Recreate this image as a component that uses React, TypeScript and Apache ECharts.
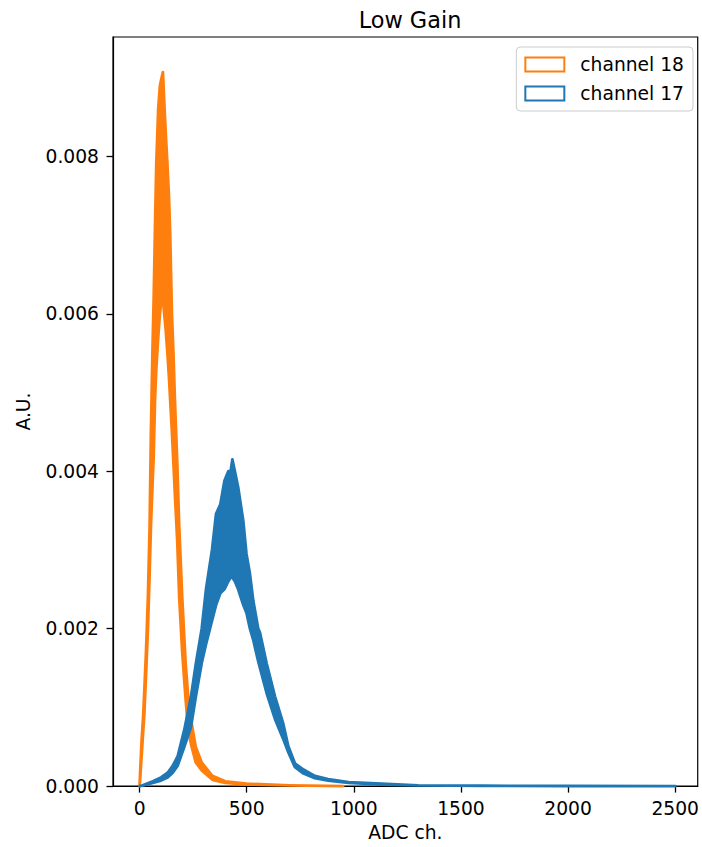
import React, { useEffect, useRef } from "react";
import * as echarts from "echarts";

// channel 18 (orange): ADC positions, upper and lower envelope of the noisy histogram
const X18 = [0, 3, 10, 17, 22, 30, 39, 47, 53, 60, 66, 72, 78, 87, 95, 103, 109, 115, 122, 130, 137, 143, 147, 151, 158, 165, 176, 185, 199, 215, 227, 243, 262, 290, 340, 400, 500, 700, 950];
const UP18 = [0, 0.0002, 0.0006, 0.0009, 0.0012, 0.0017, 0.0024, 0.0033, 0.0045, 0.0055, 0.0062, 0.0071, 0.0079, 0.0086, 0.0089, 0.009, 0.00907, 0.0087, 0.0083, 0.0079, 0.0075, 0.007, 0.0065, 0.006, 0.0055, 0.0049, 0.0041, 0.0033, 0.0024, 0.00156, 0.00114, 0.0008, 0.0005, 0.0003, 0.00013, 0.00006, 0.00003, 0.00001, 0];
const LO18 = [0, 0.0001, 0.0004, 0.0007, 0.0009, 0.0014, 0.002, 0.0027, 0.0033, 0.0038, 0.0042, 0.0049, 0.0053, 0.0057, 0.006, 0.0062, 0.0062, 0.006, 0.0058, 0.0055, 0.0052, 0.0049, 0.0047, 0.0045, 0.0041, 0.0037, 0.0031, 0.0024, 0.0017, 0.0011, 0.0007, 0.0005, 0.0003, 0.0002, 0.00008, 0.00004, 0.00002, 0.00001, 0];

// channel 17 (blue)
const X17 = [0, 14, 62, 100, 131, 155, 178, 209, 240, 263, 290, 310, 338, 357, 377, 396, 414, 425, 433, 445, 460, 484, 499, 515, 531, 554, 562, 593, 632, 670, 694, 725, 765, 818, 880, 975, 1130, 1300, 1600, 2000, 2500];
const UP17 = [0, 0.00001, 0.00006, 0.00011, 0.00017, 0.00026, 0.00038, 0.00072, 0.00114, 0.00156, 0.002, 0.0025, 0.003, 0.00346, 0.00358, 0.00388, 0.004, 0.004, 0.00415, 0.004, 0.0038, 0.00337, 0.00295, 0.0027, 0.00235, 0.002, 0.00195, 0.00156, 0.00114, 0.0008, 0.00051, 0.00029, 0.00021, 0.00013, 0.00009, 0.00005, 0.00003, 0.00001, 0.000005, 0.000002, 0];
const LO17 = [0, 0.000005, 0.00004, 0.00007, 0.00011, 0.00017, 0.00026, 0.0005, 0.00075, 0.00114, 0.00156, 0.0018, 0.0021, 0.0023, 0.00245, 0.0025, 0.0026, 0.00265, 0.00265, 0.0026, 0.0025, 0.0023, 0.0022, 0.002, 0.00185, 0.00158, 0.0015, 0.00118, 0.00085, 0.0006, 0.00043, 0.00024, 0.00016, 0.0001, 0.00007, 0.00004, 0.00002, 0.000008, 0.000003, 0.000001, 0];

const X_TICKS = [0, 500, 1000, 1500, 2000, 2500];
const Y_TICKS = [0, 0.002, 0.004, 0.006, 0.008];

const SERIES = [
  { name: "channel 18", color: "#ff7f0e", x: X18, up: UP18, lo: LO18 },
  { name: "channel 17", color: "#1f77b4", x: X17, up: UP17, lo: LO17 },
];

const FONT = "DejaVu Sans";

export default function App() {
  const ref = useRef<HTMLDivElement>(null);
  useEffect(() => {
    if (!ref.current) return;
    const chart = echarts.init(ref.current, undefined, { renderer: "svg" });
    const axisLine = { show: true, onZero: false, lineStyle: { color: "#000", width: 1.2 } };
    const tick = { show: true, length: 6.5, lineStyle: { color: "#000", width: 1.3 } };
    const option: any = {
      animation: false,
      backgroundColor: "#ffffff",
      title: {
        text: "Low Gain",
        left: 405,
        textAlign: "center",
        top: 4,
        textStyle: { fontFamily: FONT, fontSize: 22.4, fontWeight: "normal", color: "#000" },
      },
      grid: {
        left: 113,
        top: 37,
        right: 4,
        bottom: 57,
        show: true,
        borderColor: "#000",
        borderWidth: 1.2,
        backgroundColor: "transparent",
      },
      xAxis: {
        type: "value",
        min: -124,
        max: 2605,
        name: "ADC ch.",
        nameLocation: "middle",
        nameGap: 34,
        nameTextStyle: { fontFamily: FONT, fontSize: 18.7, color: "#000" },
        axisLine,
        splitLine: { show: false },
        axisTick: { ...tick, customValues: X_TICKS },
        axisLabel: {
          fontFamily: FONT,
          fontSize: 18.7,
          color: "#000",
          margin: 13,
          customValues: X_TICKS,
          formatter: (v: number) => String(v),
        },
      },
      yAxis: {
        type: "value",
        min: 0,
        max: 0.009516,
        name: "A.U.",
        nameLocation: "middle",
        nameGap: 80,
        nameRotate: 90,
        nameTextStyle: { fontFamily: FONT, fontSize: 18.7, color: "#000" },
        axisLine,
        splitLine: { show: false },
        axisTick: { ...tick, customValues: Y_TICKS },
        axisLabel: {
          fontFamily: FONT,
          fontSize: 18.7,
          color: "#000",
          margin: 14,
          customValues: Y_TICKS,
          formatter: (v: number) => v.toFixed(3),
        },
      },
      legend: {
        orient: "vertical",
        right: 9,
        top: 47,
        padding: [8, 9, 8, 8],
        itemWidth: 39,
        itemHeight: 14,
        itemGap: 10,
        backgroundColor: "rgba(255,255,255,0.8)",
        borderColor: "#cccccc",
        borderWidth: 1,
        borderRadius: 4,
        selectedMode: false,
        textStyle: { fontFamily: FONT, fontSize: 18.7, color: "#000", padding: [0, 0, 0, 11] },
        data: SERIES.map((s) => ({
          name: s.name,
          icon: "rect",
          itemStyle: { color: "rgba(255,255,255,0)", borderColor: s.color, borderWidth: 2 },
        })),
      },
      series: SERIES.map((s) => ({
        type: "custom",
        name: s.name,
        coordinateSystem: "cartesian2d",
        color: s.color,
        data: [[s.x[0], s.up[0]]],
        silent: true,
        renderItem: (_params: any, api: any) => {
          const pts: number[][] = [];
          for (let i = 0; i < s.x.length; i++) pts.push(api.coord([s.x[i], s.up[i]]));
          for (let i = s.x.length - 1; i >= 0; i--) pts.push(api.coord([s.x[i], s.lo[i]]));
          return {
            type: "polygon",
            shape: { points: pts },
            style: { fill: s.color, stroke: s.color, lineWidth: 2.8, lineJoin: "round" },
          };
        },
      })),
    };
    chart.setOption(option);
    return () => chart.dispose();
  }, []);
  return (
    <div
      ref={ref}
      style={{ position: "absolute", left: 0, top: 0, width: 702, height: 847 }}
    />
  );
}
